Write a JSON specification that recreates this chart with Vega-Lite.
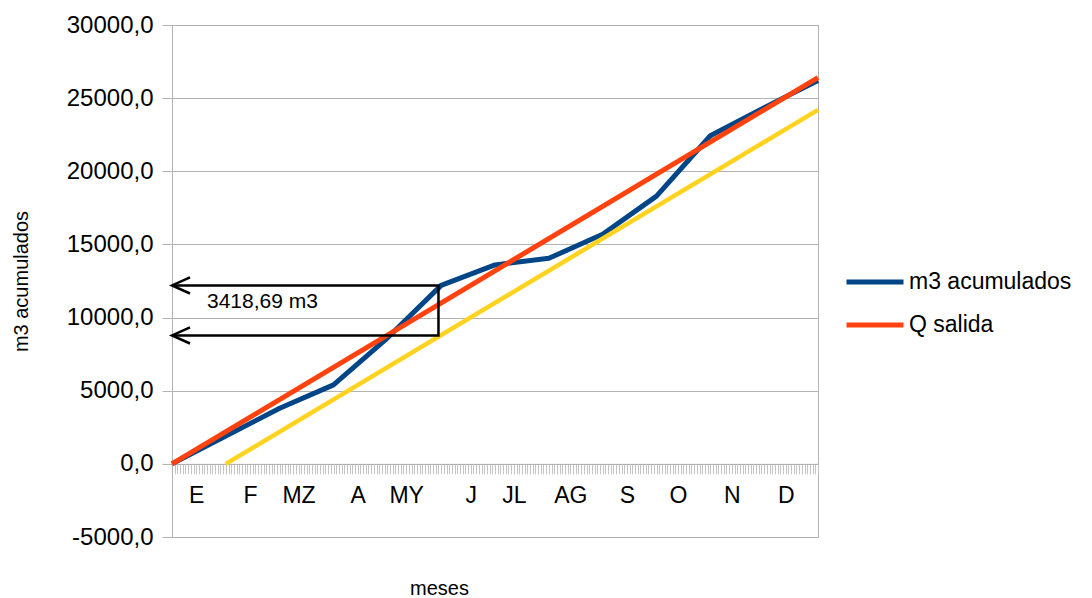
{
  "$schema": "https://vega.github.io/schema/vega-lite/v6.json",
  "width": 646,
  "height": 512,
  "autosize": {"type": "none"},
  "padding": {"left": 172, "top": 25, "right": 274, "bottom": 61},
  "background": "white",
  "config": {
    "font": "Liberation Sans",
    "view": {"stroke": "#b3b3b3", "strokeWidth": 1}
  },
  "datasets": {
    "acumulado": [
      {"mes": 0, "m3": 0},
      {"mes": 1, "m3": 1900},
      {"mes": 2, "m3": 3800},
      {"mes": 3, "m3": 5400},
      {"mes": 4, "m3": 8600},
      {"mes": 5, "m3": 12200},
      {"mes": 6, "m3": 13600},
      {"mes": 7, "m3": 14050},
      {"mes": 8, "m3": 15700},
      {"mes": 9, "m3": 18300},
      {"mes": 10, "m3": 22430},
      {"mes": 11, "m3": 24350},
      {"mes": 12, "m3": 26200}
    ],
    "salida": [
      {"mes": 0, "m3": 0},
      {"mes": 12, "m3": 26400}
    ],
    "salidaDesplazada": [
      {"mes": 1, "m3": 0},
      {"mes": 12, "m3": 24200}
    ],
    "cota": [
      {"orden": 1, "mes": 0, "m3": 12200},
      {"orden": 2, "mes": 4.95, "m3": 12200},
      {"orden": 3, "mes": 4.95, "m3": 8781.31},
      {"orden": 4, "mes": 0, "m3": 8781.31}
    ],
    "flechas": [
      {"mes": 0, "m3": 12200},
      {"mes": 0, "m3": 8781.31}
    ],
    "etiqueta": [
      {"mes": 0.65, "m3": 11080, "texto": "3418,69 m3"}
    ]
  },
  "encoding": {
    "x": {
      "field": "mes",
      "type": "quantitative",
      "scale": {"domain": [0, 12], "nice": false, "zero": false},
      "axis": {
        "offset": -73.14,
        "tickCount": 240,
        "grid": false,
        "domainColor": "#b3b3b3",
        "domainWidth": 1,
        "tickColor": "#c4c4c4",
        "tickWidth": 1,
        "tickSize": 10,
        "labelExpr": "indexof([9,29,47,69,87,111,127,148,169,188,208,228], round(datum.value*20)) >= 0 ? ['E','F','MZ','A','MY','J','JL','AG','S','O','N','D'][indexof([9,29,47,69,87,111,127,148,169,188,208,228], round(datum.value*20))] : ''",
        "labelOverlap": false,
        "labelFlush": false,
        "labelFontSize": 23,
        "labelColor": "black",
        "labelPadding": 11,
        "title": "meses",
        "titleFontSize": 20,
        "titleFontWeight": "normal",
        "titleColor": "black",
        "titleX": 267,
        "titleY": 115
      }
    },
    "y": {
      "field": "m3",
      "type": "quantitative",
      "scale": {"domain": [-5000, 30000], "nice": false, "zero": false},
      "axis": {
        "values": [-5000, 0, 5000, 10000, 15000, 20000, 25000, 30000],
        "labelExpr": "datum.value + ',0'",
        "grid": true,
        "gridColor": "#b3b3b3",
        "gridWidth": 1,
        "domainColor": "#b3b3b3",
        "tickColor": "#b3b3b3",
        "tickSize": 10,
        "labelFontSize": 24,
        "labelColor": "black",
        "labelPadding": 9,
        "title": "m3 acumulados",
        "titleFontSize": 20,
        "titleFontWeight": "normal",
        "titleColor": "black",
        "titleX": -141,
        "titleY": 256
      }
    }
  },
  "layer": [
    {
      "data": {"name": "acumulado"},
      "mark": {"type": "line", "strokeWidth": 5, "strokeJoin": "round"},
      "encoding": {
        "color": {
          "datum": "m3 acumulados",
          "scale": {"domain": ["m3 acumulados", "Q salida"], "range": ["#004586", "#ff420e"]},
          "legend": {
            "orient": "none",
            "legendX": 672,
            "legendY": 226,
            "title": null,
            "symbolType": "stroke",
            "symbolSize": 3249,
            "symbolStrokeWidth": 5,
            "labelFontSize": 23,
            "labelColor": "black",
            "labelLimit": 400,
            "labelOffset": 3,
            "rowPadding": 0
          }
        }
      }
    },
    {
      "data": {"name": "salida"},
      "mark": {"type": "line", "strokeWidth": 5},
      "encoding": {
        "color": {"datum": "Q salida"}
      }
    },
    {
      "data": {"name": "salidaDesplazada"},
      "mark": {"type": "line", "strokeWidth": 4.5, "color": "#ffd320"},
      "encoding": {}
    },
    {
      "data": {"name": "cota"},
      "mark": {"type": "line", "color": "black", "strokeWidth": 2.5, "strokeJoin": "miter"},
      "encoding": {
        "order": {"field": "orden", "type": "quantitative"}
      }
    },
    {
      "data": {"name": "flechas"},
      "mark": {
        "type": "point",
        "shape": "M2,-0.9L0,0L2,0.9",
        "size": 324,
        "filled": false,
        "stroke": "black",
        "strokeWidth": 2.5,
        "opacity": 1
      },
      "encoding": {}
    },
    {
      "data": {"name": "etiqueta"},
      "mark": {"type": "text", "align": "left", "baseline": "middle", "fontSize": 21, "color": "black"},
      "encoding": {
        "text": {"field": "texto"}
      }
    }
  ]
}
